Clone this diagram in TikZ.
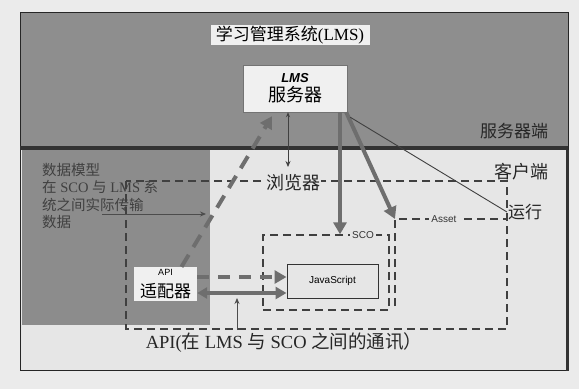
\documentclass[tikz,border=0pt]{standalone}
\usepackage{fontspec}
\setmainfont{Liberation Serif}
\setsansfont{Liberation Sans}
\newfontfamily\cjk{Noto Sans CJK SC}
\usetikzlibrary{arrows.meta}
\definecolor{paper}{HTML}{EBEBEB}
\definecolor{topgray}{HTML}{8E8E8E}
\definecolor{leftgray}{HTML}{8C8C8C}
\definecolor{lightbg}{HTML}{E6E6E6}
\definecolor{boxwhite}{HTML}{F0F0F0}
\definecolor{arrowgray}{HTML}{6E6E6E}
\tikzset{
  big/.style={font=\fontsize{18}{18}\selectfont, text=black!85, inner sep=1pt},
  small/.style={font=\sffamily\fontsize{10}{10}\selectfont, text=black!80, inner sep=2pt},
  dashbox/.style={draw=black!75, line width=1.3pt, dash pattern=on 8pt off 5pt},
  thickarrow/.style={draw=arrowgray, line width=4pt, -{Triangle[length=12pt,width=13pt]}},
  thinarrow/.style={draw=black!70, line width=0.8pt, -{Stealth[length=6pt,width=5pt]}},
}
\begin{document}
\begin{tikzpicture}[x=1pt,y=-1pt]
\useasboundingbox (0,0) rectangle (579,389);
% backgrounds
\fill[paper] (0,0) rectangle (579,389);
\fill[topgray] (20,12) rectangle (568,148);
\fill[lightbg] (20,148) rectangle (568,370);
\fill[leftgray] (22,150) rectangle (210,325);
% frame
\draw[black!85, line width=1pt] (20,12) rectangle (568,370);
\draw[black!80, line width=3pt] (567,150) -- (567,371);
\draw[black!80, line width=3.5pt] (20,148) -- (568,148);

% dashed boxes
\draw[dashbox] (126,181) rectangle (507,329);
\node[dashbox, minimum width=126pt, minimum height=75pt, inner sep=0pt] (scobox) at (326,272.5) {};
\coordinate (assetcorner) at (395,219);
\draw[dashbox] (395,306) -- (assetcorner) -- (507,219);

% text nodes
\node[fill=boxwhite, minimum width=159pt, minimum height=20pt, inner sep=0pt,
      font=\fontsize{17}{17}\selectfont] (title) at (290,35) {{\cjk 学习管理系统}(LMS)};
\node[draw=black!55, fill=boxwhite, minimum width=104pt, minimum height=47pt, inner sep=0pt, align=center] (lms) at (295,88.5)
  {{\sffamily\bfseries\itshape\fontsize{13}{13}\selectfont LMS}\\[3pt]{\cjk\fontsize{18}{18}\selectfont 服务器}};
\node[big, font=\cjk\fontsize{17}{17}\selectfont] (serverside) at (514,131) {服务器端};
\node[big, font=\cjk\fontsize{18}{18}\selectfont] (clientside) at (521,172) {客户端};
\node[anchor=north west, align=left, inner sep=0pt, text=black!75,
      font=\fontsize{14.5}{17.5}\selectfont] (model) at (42,163)
  {{\cjk 数据模型}\\{\cjk 在} SCO {\cjk 与} LMS {\cjk 系}\\{\cjk 统之间实际传输}\\{\cjk 数据}};
\node[big, fill=lightbg, font=\cjk\fontsize{18}{18}\selectfont] (browser) at (293,183) {浏览器};
\node[big, anchor=west, font=\cjk\fontsize{17}{17}\selectfont] (run) at (507,212) {运行};
\node[small, fill=lightbg] (asset) at (444,219) {Asset};
\node[small, fill=lightbg] (scolabel) at (363,235) {SCO};
\node[draw=black!80, line width=1pt, fill=lightbg, minimum width=91pt, minimum height=34pt, inner sep=0pt,
      font=\sffamily\fontsize{10}{10}\selectfont] (js) at (332.5,281) {JavaScript};
\node[fill=boxwhite, minimum width=63pt, minimum height=34pt, inner sep=0pt, align=center] (adapter) at (165.5,284)
  {{\sffamily\fontsize{9}{9}\selectfont API}\\[6pt]{\cjk\fontsize{17}{17}\selectfont 适配器}};
\node[big, font=\fontsize{18.5}{18.5}\selectfont] (apitext) at (284,343)
  {API({\cjk 在} LMS {\cjk 与} SCO {\cjk 之间的通讯）}};

% connectors
\coordinate (modelarrowstart) at (102,214);
\coordinate (modelarrowend) at (206,214);
\draw[thinarrow] (modelarrowstart) -- (modelarrowend);
\coordinate (browsertop) at (288,167);
\draw[draw=black!75, line width=0.8pt, {Stealth[length=5pt,width=4pt]}-{Stealth[length=6pt,width=5pt]}] ([xshift=-7pt]lms.south) -- (browsertop);
\draw[thickarrow, dash pattern=on 14pt off 9pt] ([xshift=16pt]adapter.north) -- ([xshift=-23pt,yshift=-4pt]lms.south);
\draw[thickarrow] ([xshift=45pt]lms.south) -- ([xshift=14pt]scobox.north);
\draw[thickarrow] ([xshift=-1pt]lms.south east) -- (assetcorner);
\draw[draw=black!75, line width=0.9pt] (run.west) -- ([xshift=3pt,yshift=-5pt]lms.south east);
\draw[thickarrow, line width=3.5pt, dash pattern=on 12pt off 9pt] ([yshift=7pt]adapter.east) -- ([yshift=4pt]js.west);
\draw[draw=arrowgray, line width=3.5pt, {Triangle[length=10pt,width=11pt]}-{Triangle[length=11pt,width=12pt]}] ([yshift=-9pt]adapter.east) -- ([yshift=-12pt]js.west);
\coordinate (apilinebottom) at (237,330);
\draw[thinarrow] (apilinebottom) -- (237,298);
\end{tikzpicture}
\end{document}
